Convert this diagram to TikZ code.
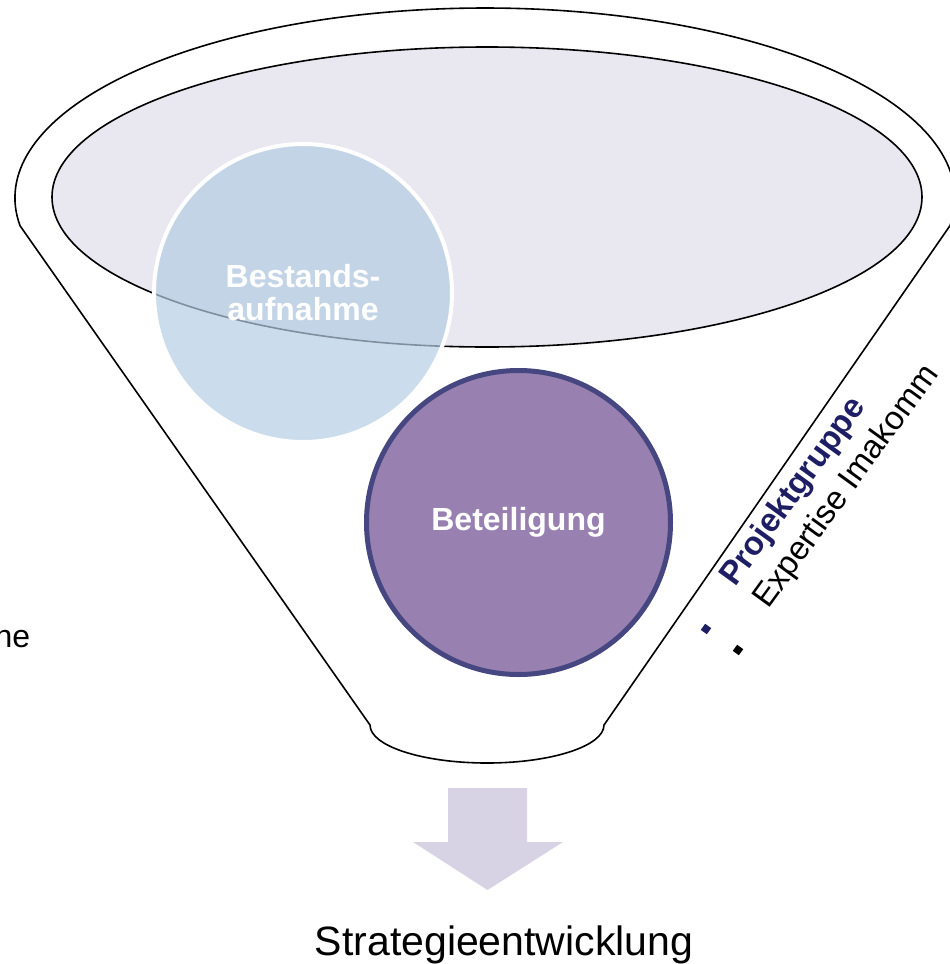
\documentclass[tikz,border=0pt]{standalone}
\usepackage{fontspec}
\setmainfont{Liberation Sans}
\definecolor{ellfill}{RGB}{233,231,239}
\definecolor{bluefill}{RGB}{181,205,228}
\definecolor{purplefill}{RGB}{152,129,177}
\definecolor{purpleline}{RGB}{70,70,128}
\definecolor{navytext}{RGB}{30,30,100}
\definecolor{arrowfill}{RGB}{215,211,228}
\begin{document}
\begin{tikzpicture}[x=1pt,y=-1pt,
  funnelline/.style={draw=black,line width=1.6pt},
  bluecircle/.style={circle,inner sep=0pt,minimum size=298pt,fill=bluefill,fill opacity=0.7,text opacity=1,draw=white,line width=4pt,text=white,align=center,font=\bfseries\fontsize{32}{33}\selectfont},
  purplecircle/.style={circle,inner sep=0pt,minimum size=304pt,fill=purplefill,draw=purpleline,line width=5pt,text=white,font=\bfseries\fontsize{32}{38}\selectfont},
  bulletsq/.style={rectangle,inner sep=0pt,minimum size=7.5pt,rotate=54},
  listtext/.style={anchor=base west,inner sep=0pt,rotate=54},
]
\useasboundingbox (0,0) rectangle (950,964);
\clip (0,0) rectangle (950,964);
% funnel
\coordinate (tl) at (20.04,225.76);
\coordinate (tr) at (949.96,225.76);
\coordinate (bl) at (370,725);
\coordinate (br) at (604,725);
\draw[funnelline] (tl) arc[start angle=171.6,end angle=368.4,x radius=470,y radius=190]
  -- (br) arc[start angle=0,end angle=180,x radius=117,y radius=38] -- cycle;
% inner ellipse
\draw[funnelline,fill=ellfill] (487,197) ellipse [x radius=435,y radius=150];
% circles
\node[bluecircle] (bestand) at (303,293) {Bestands-\\aufnahme};
\node[purplecircle] (beteil) at (518.5,522.5) {Beteiligung};
% side list
\node[bulletsq,fill=navytext] (b1) at (706,629) {};
\node[bulletsq,fill=black] (b2) at (738,650) {};
\node[listtext,text=navytext,font=\bfseries\fontsize{33}{38}\selectfont] (pg) at (735,588) {Projektgruppe};
\node[listtext,text=black,font=\fontsize{33}{38}\selectfont] (ei) at (768,610) {Expertise Imakomm};
% cut-off text at left
\node[anchor=base east,inner sep=0pt,font=\fontsize{32}{38}\selectfont] (ne) at (30.5,647) {ne};
% arrow
\fill[arrowfill] (448,788) -- (527,788) -- (527,842) -- (563,842) -- (487.5,890) -- (413,842) -- (448,842) -- cycle;
% result text
\node[anchor=base,inner sep=0pt,font=\fontsize{41}{48}\selectfont] (strat) at (504,955) {Strategieentwicklung};
\end{tikzpicture}
\end{document}
